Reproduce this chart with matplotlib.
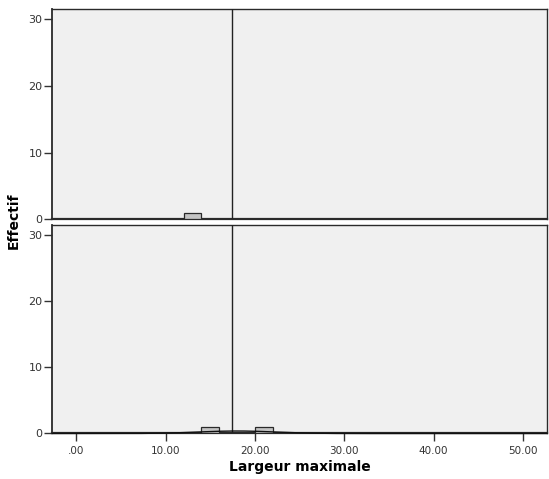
import numpy as np
import matplotlib
matplotlib.use("Agg")
import matplotlib.pyplot as plt

# histogram bins (left edge) and counts for each panel
bin_width = 2.0
top_bins = [12.0]
top_counts = [1]
bottom_bins = [14.0, 20.0]
bottom_counts = [1, 1]

# reference line (mean) and normal fit of the lower panel
ref_line = 17.4
fit_mean = 18.0
fit_sd = 4.24

x_ticks = [0, 10, 20, 30, 40, 50]
x_labels = [".00", "10.00", "20.00", "30.00", "40.00", "50.00"]
y_ticks = [0, 10, 20, 30]

bg = "#f0f0f0"
bar_face = "#c4c4c4"
edge = "#2a2a2a"

fig = plt.figure(figsize=(5.49, 4.79), dpi=100)
ax1 = fig.add_axes([0.0953, 0.5422, 0.901, 0.4384])
ax2 = fig.add_axes([0.0953, 0.0950, 0.901, 0.4359])

for ax in (ax1, ax2):
    ax.set_facecolor(bg)
    ax.set_xlim(-2.7, 52.7)
    ax.set_ylim(0, 31.5)
    ax.set_yticks(y_ticks)
    ax.set_yticklabels([str(t) for t in y_ticks], fontsize=8, color="#333333")
    ax.tick_params(axis="y", direction="out", length=6, width=1, colors="#333333", pad=1)
    for s in ax.spines.values():
        s.set_color(edge)
        s.set_linewidth(1.0)
    ax.spines["bottom"].set_linewidth(1.6)
    ax.spines["left"].set_linewidth(1.3)
    ax.axvline(ref_line, color="#222222", lw=1.0, zorder=4)

ax1.bar(top_bins, top_counts, width=bin_width, align="edge",
        color=bar_face, edgecolor=edge, linewidth=0.9, zorder=3)
ax1.set_xticks([])

ax2.bar(bottom_bins, bottom_counts, width=bin_width, align="edge",
        color=bar_face, edgecolor=edge, linewidth=0.9, zorder=3)
xs = np.linspace(-2.7, 52.7, 400)
n = sum(bottom_counts)
curve = n * bin_width / (fit_sd * np.sqrt(2 * np.pi)) * np.exp(-0.5 * ((xs - fit_mean) / fit_sd) ** 2)
ax2.plot(xs, curve, color="#111111", lw=1.0, zorder=5, clip_on=False)
ax2.set_xticks(x_ticks)
ax2.set_xticklabels(x_labels, fontsize=7.5, color="#333333")
ax2.tick_params(axis="x", direction="out", length=6, width=1, colors="#333333", pad=3)
ax2.set_xlabel("Largeur maximale", fontsize=10, fontweight="bold", labelpad=3)

fig.text(0.025, 0.54, "Effectif", rotation=90, fontsize=10, fontweight="bold",
         ha="center", va="center")

fig.savefig("out.png", dpi=100, facecolor="white")
